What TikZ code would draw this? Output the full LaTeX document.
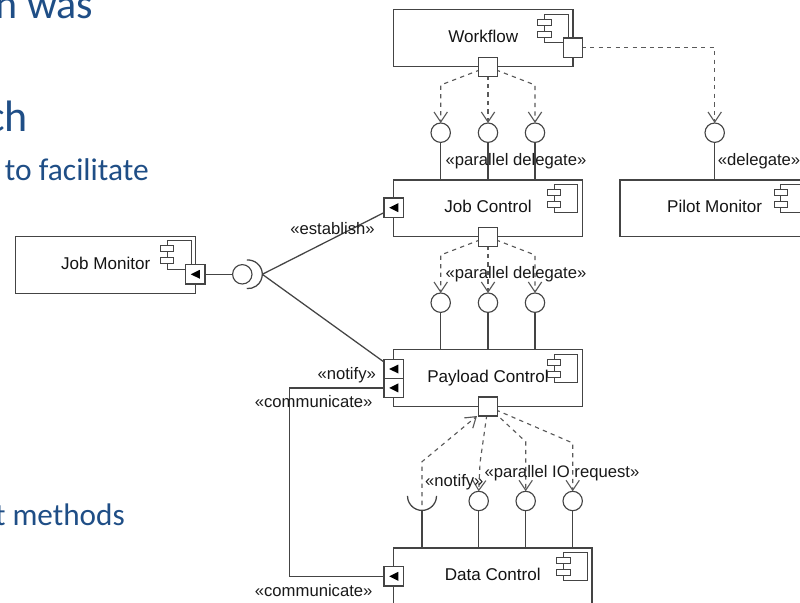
\documentclass[tikz,border=0pt]{standalone}
\usepackage{fontspec}
\setmainfont{Liberation Sans}
\newfontfamily\slidefont{Carlito}
\usetikzlibrary{arrows.meta,calc,backgrounds}
\definecolor{slideblue}{HTML}{1F4E86}
\definecolor{umlline}{HTML}{444444}
\definecolor{umldash}{HTML}{5A5A5A}
\newcommand{\upbox}[1]{\raisebox{2.9pt}{#1}}
\newcommand{\compicon}[1]{%
  \draw[icon] ($(#1.north east)+(-28.5,4.5)$) rectangle ($(#1.north east)+(-4.7,33)$);
  \draw[icon,fill=white] ($(#1.north east)+(-35.2,9.3)$) rectangle ($(#1.north east)+(-21.8,15.3)$);
  \draw[icon,fill=white] ($(#1.north east)+(-35.2,21.3)$) rectangle ($(#1.north east)+(-21.8,27.3)$);
}
\tikzset{
  x=0.75pt,y=-0.75pt,
  comp/.style={draw=umlline,line width=0.95pt,inner sep=0pt,outer sep=0pt,minimum height=56.7*0.75pt,font=\fontsize{12.8}{15}\selectfont,text=black!92},
  icon/.style={draw=umlline,line width=0.75pt},
  portbox/.style={draw=umlline,fill=white,line width=0.95pt,inner sep=0pt,outer sep=0pt,minimum size=19.2*0.75pt},
  inport/.style={portbox,path picture={
    \fill[black] ($(path picture bounding box.center)+(-4.5,0)$) -- ($(path picture bounding box.center)+(4.6,-4.5)$) -- ($(path picture bounding box.center)+(4.6,4.5)$) -- cycle;}},
  ball/.style={circle,draw=umlline,fill=white,line width=0.85pt,inner sep=0pt,outer sep=0pt,minimum size=19.4*0.75pt},
  wire/.style={draw=umlline,line width=0.95pt},
  dep/.style={draw=umldash,line width=0.85pt,dash pattern=on 3.2pt off 3.2pt,-{Straight Barb[length=7.5pt,width=10pt,line width=0.85pt]}},
  stereo/.style={inner sep=0pt,font=\fontsize{12.5}{14}\selectfont,text=black!90},
  slide/.style={inner sep=0pt,anchor=base east,text=slideblue},
}
\begin{document}
\begin{tikzpicture}
\clip (0,0) rectangle (800,603);
\useasboundingbox (0,0) rectangle (800,603);
% slide text behind the diagram
\node[slide,font=\slidefont\fontsize{31.5}{36}\selectfont] (s1) at (93.5,18) {n was};
\node[slide,font=\slidefont\fontsize{33}{36}\selectfont] (s2) at (28,131.7) {ch};
\node[slide,font=\slidefont\fontsize{23.6}{28}\selectfont] (s3) at (149,180) {to facilitate};
\node[slide,font=\slidefont\fontsize{23.4}{28}\selectfont] (s4) at (125,525) {t methods};
% components
\node[comp,minimum width=179.5*0.75pt] (wf) at (483.25,38.2) {\upbox{Workflow}};
\node[comp,minimum width=189*0.75pt] (jc) at (488,208.3) {\upbox{Job Control}};
\node[comp,minimum width=189.2*0.75pt] (pm) at (714.6,208.3) {\upbox{Pilot Monitor}};
\node[comp,minimum width=180*0.75pt] (jm) at (105.7,264.8) {\upbox{Job Monitor}};
\node[comp,minimum width=189*0.75pt] (pc) at (488,378.2) {\upbox{Payload Control}};
\node[comp,minimum width=198.7*0.75pt] (dc) at (492.7,576.3) {\upbox{Data Control}};
\compicon{wf}\compicon{jc}\compicon{pm}\compicon{jm}\compicon{pc}\compicon{dc}
% balls
\node[ball] (w1) at (440.7,132.7) {};
\node[ball] (w2) at (488,132.7) {};
\node[ball] (w3) at (535,132.7) {};
\node[ball] (w4) at (714.7,132.7) {};
\node[ball] (j1) at (440.7,302.7) {};
\node[ball] (j2) at (488,302.7) {};
\node[ball] (j3) at (535,302.7) {};
\node[ball] (d1) at (478.7,501) {};
\node[ball] (d2) at (525.7,501) {};
\node[ball] (d3) at (572.7,501) {};
\node[ball] (mb) at (242.3,274.3) {};
% ports
\node[portbox] (wfb) at (488,66.8) {};
\node[portbox] (wfr) at (573,47.7) {};
\node[portbox] (jcb) at (488,236.8) {};
\node[portbox] (pcb) at (488,406.5) {};
\node[inport] (jcl) at (393.7,207.7) {};
\node[inport] (jmr) at (195.3,274.3) {};
\node[inport] (pcl1) at (393.7,369) {};
\node[inport] (pcl2) at (393.7,387.9) {};
\node[inport] (dcl) at (393.7,576.3) {};
% named helpers
\coordinate (sockj) at (248,274.3);
\coordinate (apex) at (262.3,274.3);
\coordinate (sockd) at (422,495.9);
\coordinate (sockdb) at (422,510.4);
\coordinate (sockdi) at (422,505);
\coordinate (corn1) at (289.7,387.9);
\coordinate (corn2) at (289.7,576.3);
\coordinate (b1) at (440.7,85);
\coordinate (b3) at (535,85);
\coordinate (b4) at (714.7,47.7);
\coordinate (c1) at (440.7,255);
\coordinate (c3) at (535,255);
\coordinate (e1) at (422,461.7);
\coordinate (e2) at (480,463);
\coordinate (e3) at (525.7,441.7);
\coordinate (e4) at (572.7,443);
\coordinate (pin) at (477,416);
\coordinate (jtop1) at (440.7,180);
\coordinate (jtop2) at (488,180);
\coordinate (jtop3) at (535,180);
\coordinate (ptop) at (714.7,180);
\coordinate (ptop1) at (440.7,350);
\coordinate (ptop2) at (488,350);
\coordinate (ptop3) at (535,350);
\coordinate (dtop0) at (422,548);
\coordinate (dtop1) at (478.7,548);
\coordinate (dtop2) at (525.7,548);
\coordinate (dtop3) at (572.7,548);
% connectors beneath ports and balls
\begin{scope}[on background layer]
  \draw[dep] (wfb.center) -- (b1) -- (w1.north);
  \draw[dep] (wfb.center) -- (w2.north);
  \draw[dep] (wfb.center) -- (b3) -- (w3.north);
  \draw[dep] (wfr.center) -- (b4) -- (w4.north);
  \draw[dep] (jcb.center) -- (c1) -- (j1.north);
  \draw[dep] (jcb.center) -- (j2.north);
  \draw[dep] (jcb.center) -- (c3) -- (j3.north);
  \draw[dep] (pcb.center) -- (e2) -- (d1.north);
  \draw[dep] (pcb.center) -- (e3) -- (d2.north);
  \draw[dep] (pcb.center) -- (e4) -- (d3.north);
  \draw[wire] (w1.south) -- (jtop1);
  \draw[wire] (w2.south) -- (jtop2);
  \draw[wire] (w3.south) -- (jtop3);
  \draw[wire] (w4.south) -- (ptop);
  \draw[wire] (j1.south) -- (ptop1);
  \draw[wire] (j2.south) -- (ptop2);
  \draw[wire] (j3.south) -- (ptop3);
  \draw[wire] (d1.south) -- (dtop1);
  \draw[wire] (d2.south) -- (dtop2);
  \draw[wire] (d3.south) -- (dtop3);
  \draw[wire] (sockdb) -- (dtop0);
  \draw[wire] (jmr.center) -- (mb.west);
  \draw[wire] (apex) -- (jcl.center);
  \draw[wire] (apex) -- (pcl1.center);
  \draw[wire] (pcl2.center) -- (corn1) -- (corn2) -- (dcl.center);
\end{scope}
% sockets
\draw[wire] ([shift={(-95:14.3)}]sockj) arc (-95:95:14.3);
\draw[wire] ([shift={(0:14.5)}]sockd) arc (0:180:14.5);
% notify dependency points up into the port
\draw[dep] (sockdi) -- (e1) -- (pin);
% labels
\node[stereo] (l1) at (516,160.7) {«parallel delegate»};
\node[stereo] (l2) at (759,160.7) {«delegate»};
\node[stereo] (l3) at (516,274.5) {«parallel delegate»};
\node[stereo] (l4) at (332.5,229) {«establish»};
\node[stereo] (l5) at (346.7,375.3) {«notify»};
\node[stereo] (l6) at (313.7,401.5) {«communicate»};
\node[stereo] (l7) at (313.7,590.5) {«communicate»};
\node[stereo] (l8) at (454.3,482) {«notify»};
\node[stereo] (l9) at (562,473) {«parallel IO request»};
\end{tikzpicture}
\end{document}
